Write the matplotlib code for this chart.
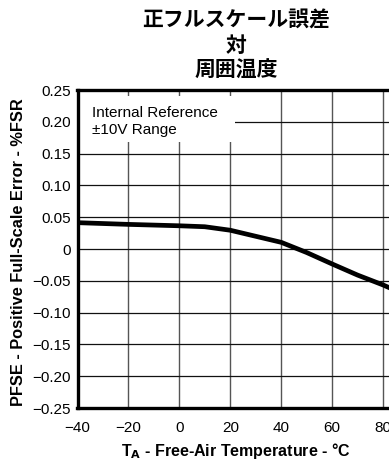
import matplotlib
matplotlib.use("Agg")
import matplotlib.pyplot as plt
from matplotlib.patches import Rectangle

plt.rcParams['font.family'] = ['Liberation Sans', 'Noto Sans CJK JP', 'DejaVu Sans']

temperature = [-40, -20, 0, 10, 20, 30, 40, 50, 60, 70, 80, 90]
pfse = [0.0414, 0.0387, 0.0365, 0.035, 0.0295, 0.020, 0.0105, -0.0055, -0.0235, -0.041, -0.0565, -0.074]

x_ticks = [-40, -20, 0, 20, 40, 60, 80, 100, 120]
x_ticklabels = ['−40', '−20', '0', '20', '40', '60', '80', '100', '120']
y_ticks = [-0.25, -0.20, -0.15, -0.10, -0.05, 0, 0.05, 0.10, 0.15, 0.20, 0.25]
y_ticklabels = ['−0.25', '−0.20', '−0.15', '−0.10', '−0.05', '0', '0.05', '0.10', '0.15', '0.20', '0.25']

title_lines = ['正フルスケール誤差', '対', '周囲温度']
box_lines = ['Internal Reference', '±10V Range']

W, H = 389, 466
fig = plt.figure(figsize=(W / 100, H / 100), dpi=100)

left = 77.5
px_per_deg = (383 - 77.5) / 120.0
right = left + 160 * px_per_deg
top, bottom = 90, 408
ax = fig.add_axes([left / W, 1 - bottom / H, (right - left) / W, (bottom - top) / H])
ax.set_xlim(-40, 120)
ax.set_ylim(-0.25, 0.25)

def px_to_x(px):
    return (px - left) / px_per_deg - 40

def px_to_y(py):
    return (249 - py) * 0.5 / (bottom - top)

ax.set_xticks(x_ticks)
ax.set_xticklabels(x_ticklabels)
ax.set_yticks(y_ticks)
ax.set_yticklabels(y_ticklabels)
ax.tick_params(axis='both', labelsize=11, length=0)
ax.tick_params(axis='x', pad=9)
ax.tick_params(axis='y', pad=5)

ax.grid(True, axis='x', color='#555555', linewidth=1.0)
ax.grid(True, axis='y', color='#111111', linewidth=0.9)
ax.set_axisbelow(True)
for s in ['left', 'bottom', 'top', 'right']:
    ax.spines[s].set_linewidth(2.4)

# white box behind the annotation
x0, x1 = px_to_x(left), px_to_x(235)
y0, y1 = px_to_y(142), px_to_y(96)
ax.add_patch(Rectangle((x0, y0), x1 - x0, y1 - y0, facecolor='white', edgecolor='none', zorder=1.5))
ax.text(px_to_x(92), px_to_y(113), box_lines[0], fontsize=11, va='center', ha='left', zorder=4)
ax.text(px_to_x(92), px_to_y(130), box_lines[1], fontsize=11, va='center', ha='left', zorder=4)

ax.plot(temperature, pfse, color='black', linewidth=3.4, solid_capstyle='butt', zorder=3)

fig.text(19 / W, 1 - 252 / H, 'PFSE - Positive Full-Scale Error - %FSR', rotation=90,
         fontsize=11.8, fontweight='bold', ha='center', va='center')
fig.text(236 / W, 1 - 451 / H, r'T$_\mathbf{A}$ - Free-Air Temperature - °C',
         fontsize=11.5, fontweight='bold', ha='center', va='center')

for i, line in enumerate(title_lines):
    fig.text(236 / W, 1 - (20 + 25 * i) / H, line, fontsize=15, fontweight='bold',
             ha='center', va='center', family=['Noto Sans CJK JP', 'DejaVu Sans'])

fig.savefig('out.png', dpi=100)
